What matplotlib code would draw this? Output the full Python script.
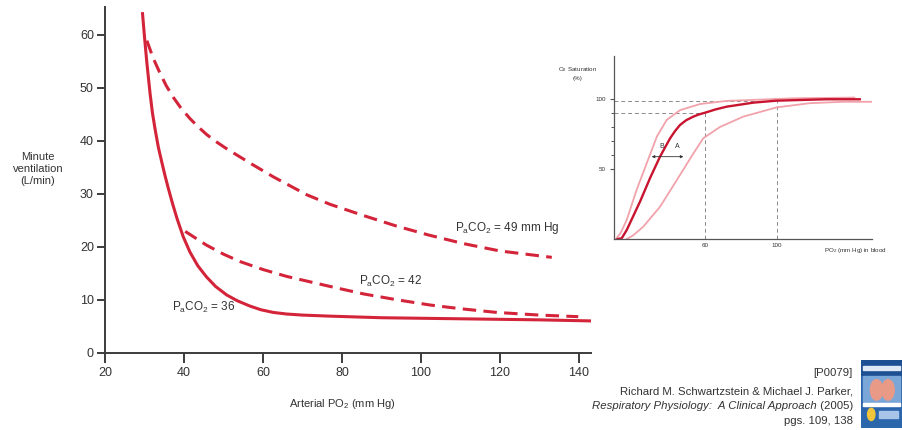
import matplotlib
matplotlib.use('Agg')
import matplotlib.pyplot as plt
from matplotlib.patches import Rectangle, Ellipse, Circle

plt.rcParams['font.family'] = ['Liberation Sans', 'DejaVu Sans']
plt.rcParams['mathtext.fontset'] = 'custom'
plt.rcParams['mathtext.rm'] = 'Liberation Sans'
plt.rcParams['mathtext.it'] = 'Liberation Sans:italic'
plt.rcParams['mathtext.bf'] = 'Liberation Sans:bold'

# ---------------- data: main chart ----------------
pco2_36_x = [29.5, 30.0, 30.6, 31.4, 32.0, 32.7, 33.5, 34.4, 35.2, 36.0, 37.0, 38.2, 39.8,
             41.5, 43.5, 45.7, 48.0, 50.8, 53.5, 56.7, 59.5, 62.6, 66.0, 70.0, 77.0, 90.0,
             100.0, 110.0, 120.0, 130.0, 143.0]
pco2_36_y = [64.0, 59.6, 54.7, 49.0, 45.3, 42.1, 38.8, 35.9, 33.4, 31.1, 28.4, 25.4, 21.9,
             19.0, 16.4, 14.3, 12.5, 10.9, 9.8, 8.8, 8.1, 7.6, 7.3, 7.1, 6.9, 6.6,
             6.5, 6.4, 6.3, 6.2, 6.0]
pco2_42_x = [40.3, 45.7, 50.0, 54.2, 60.0, 66.0, 77.0, 85.4, 93.8, 102.3, 110.0, 119.2, 130.0, 139.8]
pco2_42_y = [22.9, 20.3, 18.6, 17.2, 15.7, 14.4, 12.5, 11.1, 10.0, 9.0, 8.3, 7.6, 7.1, 6.8]
pco2_49_x = [30.6, 32.2, 33.9, 35.5, 37.3, 39.3, 41.5, 43.5, 45.7, 48.0, 50.8, 56.7, 62.6,
             71.1, 77.0, 85.4, 93.8, 102.0, 110.7, 120.0, 133.1]
pco2_49_y = [58.9, 55.6, 52.8, 50.4, 48.2, 46.1, 44.2, 42.7, 41.2, 39.9, 38.5, 35.8, 33.2,
             29.8, 28.0, 25.9, 23.9, 22.2, 20.6, 19.2, 18.0]
main_xticks = [20, 40, 60, 80, 100, 120, 140]
main_yticks = [0, 10, 20, 30, 40, 50, 60]

# ---------------- data: inset (O2 dissociation) ----------------
hb_x = [11.5, 13.7, 16.5, 20.0, 23.9, 29.4, 35.0, 40.6, 43.3, 46.1, 49.5, 53.5, 56.5, 60.0,
        66.0, 72.0, 86.9, 99.8, 127.6, 146.0]
hb_y = [0.0, 0.5, 6.4, 16.0, 26.7, 43.3, 58.8, 71.9, 77.0, 81.4, 84.8, 87.4, 88.9, 90.2,
        92.6, 94.5, 97.4, 98.8, 99.8, 99.8]
hbB_x = [10.5, 13.0, 16.5, 22.0, 27.6, 33.2, 38.7, 46.1, 57.2, 72.0, 109.0, 143.0]
hbB_y = [0.0, 4.0, 13.6, 35.0, 54.0, 73.0, 85.0, 92.0, 96.4, 98.6, 100.5, 101.0]
hbA_x = [16.5, 20.0, 25.7, 35.0, 44.3, 53.5, 59.1, 68.3, 81.3, 99.8, 118.3, 136.8, 152.6]
hbA_y = [0.0, 2.5, 8.8, 23.0, 42.0, 61.0, 72.0, 80.0, 87.4, 94.0, 97.0, 98.0, 98.0]
inset_xticks = [60, 100]
inset_yticks = [50, 100]
inset_minor_yticks = [60, 70, 80, 90]

W, H = 902, 430
fig = plt.figure(figsize=(W / 100, H / 100), dpi=100)


def box(l, t, r, b):
    return [l / W, 1 - b / H, (r - l) / W, (b - t) / H]


RED = '#d3243a'
AX = '#3c3c3c'
TXT = '#333333'

# ---------------- main axes ----------------
ax = fig.add_axes(box(105, 7.3, 590.9, 352.7))
ax.set_xlim(20, 143)
ax.set_ylim(0, 65.2)
for s in ['top', 'right']:
    ax.spines[s].set_visible(False)
for s in ['left', 'bottom']:
    ax.spines[s].set_color(AX)
    ax.spines[s].set_linewidth(1.4)
ax.set_xticks(main_xticks)
ax.set_yticks(main_yticks)
ax.tick_params(axis='x', length=7.5, width=1.4, color=AX, labelsize=9, labelcolor=TXT, pad=2.5)
ax.tick_params(axis='y', length=5.5, width=1.4, color=AX, labelsize=9, labelcolor=TXT, pad=2.5)
ax.patch.set_alpha(0)

ax.plot(pco2_36_x, pco2_36_y, color=RED, lw=2.2, solid_joinstyle='round')
ax.plot(pco2_42_x, pco2_42_y, color=RED, lw=2.2, dashes=(4.4, 2.4), dash_joinstyle='round')
ax.plot(pco2_49_x, pco2_49_y, color=RED, lw=2.2, dashes=(4.4, 2.4), dash_joinstyle='round')

lab_kw = dict(fontsize=8.5, color=TXT, ha='left', va='center')
ax.text(108.6, 23.6, r'P$_\mathrm{a}$CO$_2$ = 49 mm Hg', **lab_kw)
ax.text(84.3, 13.5, r'P$_\mathrm{a}$CO$_2$ = 42', **lab_kw)
ax.text(36.9, 8.5, r'P$_\mathrm{a}$CO$_2$ = 36', **lab_kw)

fig.text(38 / W, 1 - 169 / H, 'Minute\nventilation\n(L/min)', ha='center', va='center',
         fontsize=8, color=TXT, linespacing=1.25)
fig.text(342 / W, 1 - 404 / H, r'Arterial PO$_2$ (mm Hg)', ha='center', va='center',
         fontsize=8, color=TXT)

# ---------------- inset ----------------
ins = fig.add_axes(box(614, 56, 872, 239))
ins.set_xlim(9.44, 152.8)
ins.set_ylim(0, 130.7)
ins.patch.set_alpha(0)
for s in ['top', 'right']:
    ins.spines[s].set_visible(False)
for s in ['left', 'bottom']:
    ins.spines[s].set_color('#555555')
    ins.spines[s].set_linewidth(0.9)
ins.set_xticks(inset_xticks)
ins.set_yticks(inset_yticks)
ins.set_yticks(inset_minor_yticks, minor=True)
ins.tick_params(axis='x', length=0, labelsize=4.5, labelcolor=TXT, pad=3)
ins.tick_params(axis='y', which='major', length=3, width=0.8, color='#555555',
                labelsize=4.5, labelcolor=TXT, pad=3)
ins.tick_params(axis='y', which='minor', length=2, width=0.7, color='#555555')

GR = '#8a8a8a'
ins.plot([9.44, 100], [98.3, 98.3], color=GR, lw=0.7, dashes=(4, 3))
ins.plot([9.44, 60], [90.2, 90.2], color=GR, lw=0.7, dashes=(4, 3))
ins.plot([60, 60], [0, 90.2], color=GR, lw=0.7, dashes=(4, 3))
ins.plot([100, 100], [0, 98.3], color=GR, lw=0.7, dashes=(4, 3))

ins.plot(hbB_x, hbB_y, color='#f1a2ab', lw=1.3, solid_joinstyle='round')
ins.plot(hbA_x, hbA_y, color='#f1a2ab', lw=1.3, solid_joinstyle='round')
ins.plot(hb_x, hb_y, color='#c8142f', lw=1.7, solid_joinstyle='round')

ins.annotate('', xy=(30.4, 58.8), xytext=(48, 58.8),
             arrowprops=dict(arrowstyle='<|-|>', color='#333333', lw=0.6, mutation_scale=4,
                             shrinkA=0, shrinkB=0))
ins.text(36.0, 66.4, 'B', fontsize=5, color=TXT, ha='center', va='center')
ins.text(44.6, 66.4, 'A', fontsize=5, color=TXT, ha='center', va='center')

fig.text(578 / W, 1 - 73 / H, 'O$_2$ Saturation\n(%)', ha='center', va='center',
         fontsize=4.5, color=TXT, linespacing=1.3)
fig.text(855 / W, 1 - 250 / H, r'PO$_2$ (mm Hg) in blood', ha='center', va='center',
         fontsize=4.5, color=TXT)

# ---------------- citation ----------------
cit_kw = dict(ha='right', va='center', fontsize=8.2, color=TXT)
fig.text(853 / W, 1 - 373 / H, '[P0079]', **cit_kw)
fig.text(853 / W, 1 - 391 / H, 'Richard M. Schwartzstein & Michael J. Parker,', **cit_kw)
yr = fig.text(853 / W, 1 - 406 / H, ' (2005)', **cit_kw)
renderer = fig.canvas.get_renderer()
yr_w = yr.get_window_extent(renderer=renderer).width
fig.text((853 - yr_w) / W, 1 - 406 / H, 'Respiratory Physiology:  A Clinical Approach',
         fontstyle='italic', **cit_kw)
fig.text(853 / W, 1 - 421 / H, 'pgs. 109, 138', **cit_kw)

# ---------------- book cover thumbnail ----------------
bk = fig.add_axes(box(861, 360, 902, 428))
bk.set_xlim(0, 1)
bk.set_ylim(0, 1)
bk.axis('off')
bk.add_patch(Rectangle((0, 0), 1, 1, color='#2b66ad'))
bk.add_patch(Rectangle((0, 0.78), 1, 0.22, color='#1d4f93'))
bk.add_patch(Rectangle((0.05, 0.86), 0.9, 0.05, color='#dfe8f5'))
bk.add_patch(Rectangle((0.05, 0.38), 0.9, 0.38, color='#7aa6d8'))
bk.add_patch(Ellipse((0.38, 0.56), 0.3, 0.3, color='#e89a86'))
bk.add_patch(Ellipse((0.66, 0.56), 0.3, 0.3, color='#e89a86'))
bk.add_patch(Rectangle((0.05, 0.33), 0.9, 0.04, color='#ffffff'))
bk.add_patch(Circle((0.25, 0.2), 0.09, color='#f0c53a'))
bk.add_patch(Rectangle((0.45, 0.15), 0.45, 0.1, color='#a8c4e8'))

fig.savefig('out.png', dpi=100)
